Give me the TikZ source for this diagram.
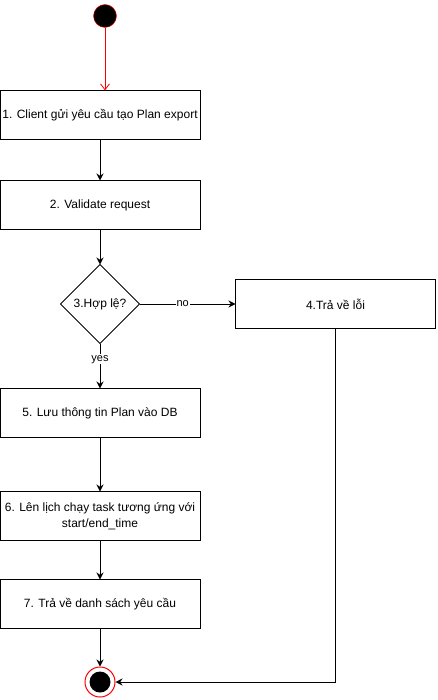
\documentclass[tikz,border=0pt]{standalone}
\usepackage{fontspec}
\setmainfont{Liberation Sans}
\usepackage{xcolor}
\usepackage{tikz}
\usetikzlibrary{arrows.meta,positioning,shapes.geometric}

\begin{document}
\begin{tikzpicture}[
  x=1pt, y=1pt,
  box/.style={draw, line width=1pt, outer sep=0pt, minimum width=200pt, minimum height=49pt, align=center, inner sep=2pt, font=\fontsize{12}{16}\selectfont},
  decision/.style={draw, line width=1pt, outer sep=0pt, diamond, minimum width=79pt, minimum height=79pt, inner sep=0pt, font=\fontsize{12}{14}\selectfont},
  arrow/.style={-{Stealth[length=7pt,width=7pt]}, line width=1pt},
  startarrow/.style={-{Straight Barb[length=6pt,width=9pt]}, red, line width=0.8pt},
  lbl/.style={fill=white, inner sep=1pt, font=\fontsize{11}{12}\selectfont},
  initial/.style={circle, draw=red, fill=black, minimum size=23pt, inner sep=0pt},
  finalring/.style={circle, draw=red, line width=1pt, fill=white, minimum size=30pt, inner sep=0pt},
  finalcore/.style={circle, fill=black, minimum size=21pt, inner sep=0pt},
]
\useasboundingbox (0,0) rectangle (437,-700);

\node[initial] (start) at (105,-16) {};
\node[box] (request) at (100,-115) {1. Client gửi yêu cầu tạo Plan export};
\node[box, below=41pt of request] (validate) {2. Validate request};
\node[decision, below=35pt of validate] (valid) {3.Hợp lệ?};
\node[box, right=96pt of valid] (error) {4.Trả về lỗi};
\node[box, below=45pt of valid] (save) {5. Lưu thông tin Plan vào DB};
\node[box, below=54pt of save] (schedule) {6. Lên lịch chạy task tương ứng với\\start/end\_time};
\node[box, below=39pt of schedule] (reply) {7. Trả về danh sách yêu cầu};
\node[finalring, below=38pt of reply] (stop) {};
\node[finalcore] at (stop) {};

\draw[startarrow] (start) -- (start |- request.north);
\draw[arrow] (request) -- (validate);
\draw[arrow] (validate) -- (valid);
\draw[arrow] (valid) -- node[lbl, pos=0.45] {no} (error);
\draw[arrow] (valid) -- node[lbl, pos=0.35] {yes} (save);
\draw[arrow] (save) -- (schedule);
\draw[arrow] (schedule) -- (reply);
\draw[arrow] (reply) -- (stop);
\draw[arrow] (error) |- (stop);

\end{tikzpicture}
\end{document}
